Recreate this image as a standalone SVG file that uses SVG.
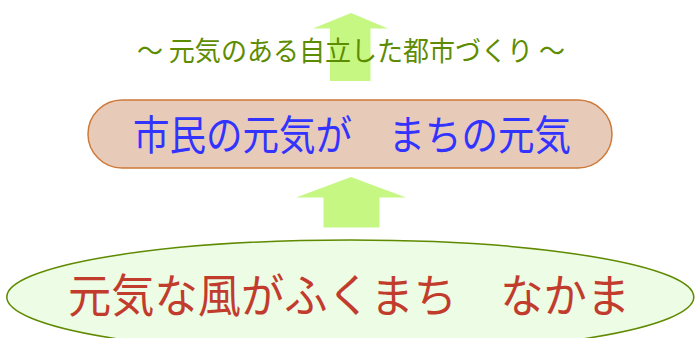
<svg xmlns="http://www.w3.org/2000/svg" width="699" height="338" viewBox="0 0 699 338">
<style>
.t{font-family:"Noto Sans CJK JP","Noto Sans",sans-serif;text-anchor:middle}
.arrow{fill:#c6f783;stroke:none}
</style>
<rect width="699" height="338" fill="#ffffff"/>
<g id="connectors">
<polygon class="arrow" points="351,13 388,28.5 370.5,28.5 370.5,81 330,81 330,28.5 313,28.5"/>
<polygon class="arrow" points="351,177 406,197.5 379.5,197.5 379.5,227.5 323.5,227.5 323.5,197.5 296,197.5"/>
</g>
<g id="goal">
<text class="t" x="351" y="61.3" font-size="27" fill="#5e8c00" textLength="428" lengthAdjust="spacingAndGlyphs">～ 元気のある自立した都市づくり ～</text>
</g>
<g id="middle">
<rect x="88" y="100" width="524" height="68" rx="34" ry="34" fill="#e8cab8" stroke="#cd7a3a" stroke-width="1.5"/>
<text class="t" x="352" y="149.6" font-size="41" fill="#3333ff" textLength="438" lengthAdjust="spacingAndGlyphs">市民の元気が　まちの元気</text>
</g>
<g id="base">
<ellipse cx="350.3" cy="297" rx="343.5" ry="57" fill="#edfce4" stroke="#5f8a00" stroke-width="1.5"/>
<text class="t" x="349" y="311.5" font-size="46" fill="#c23c2e" textLength="562" lengthAdjust="spacingAndGlyphs">元気な風がふくまち　なかま</text>
</g>
</svg>
